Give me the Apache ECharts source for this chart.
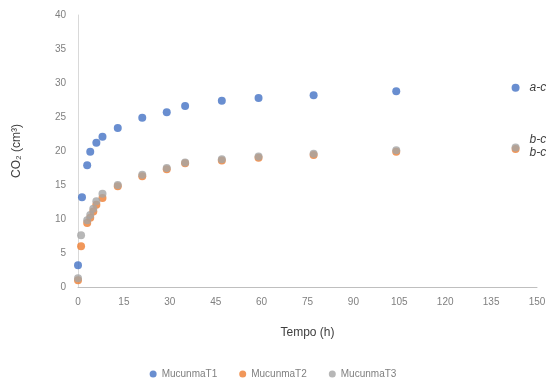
<!DOCTYPE html>
<html>
<head>
<meta charset="utf-8">
<script src="https://cdn.jsdelivr.net/npm/echarts@6/dist/echarts.min.js"></script>
<style>html,body{margin:0;padding:0;background:#fff}#c{width:546px;height:388px}</style>
</head>
<body>
<div id="c"></div>
<script>
var seriesNames = ['MucunmaT1', 'MucunmaT2', 'MucunmaT3'];
var timesT1 = [0, 1.3, 3, 4, 6, 8, 13, 21, 29, 35, 47, 59, 77, 104, 143];
var valuesT1 = [3.2, 13.2, 17.9, 19.9, 21.2, 22.1, 23.4, 24.9, 25.7, 26.6, 27.4, 27.8, 28.2, 28.8, 29.3];
var timesT2 = [0, 1, 3, 4, 5, 6, 8, 13, 21, 29, 35, 47, 59, 77, 104, 143];
var valuesT2 = [1.0, 6.0, 9.4, 10.2, 11.1, 12.1, 13.1, 14.8, 16.3, 17.3, 18.2, 18.6, 19.0, 19.4, 19.9, 20.3];
var timesT3 = [0, 1, 3, 4, 5, 6, 8, 13, 21, 29, 35, 47, 59, 77, 104, 143];
var valuesT3 = [1.3, 7.6, 9.8, 10.6, 11.5, 12.6, 13.7, 15.0, 16.5, 17.5, 18.3, 18.8, 19.2, 19.6, 20.1, 20.5];
var annotations = [['a-c', 143, 29.3], ['b-c', 143, 21.6], ['b-c', 143, 19.7]];
var colors = ['#4472C4', '#ED7D31', '#A5A5A5'];

function pairs(t, v) { return t.map(function (x, i) { return [x, v[i]]; }); }

var chart = echarts.init(document.getElementById('c'), null, { renderer: 'canvas' });
var labelFont = 'Liberation Sans';
chart.setOption({
  animation: false,
  color: colors,
  grid: { left: 78, right: 9, top: 15, bottom: 101, containLabel: false, outerBoundsMode: 'none' },
  xAxis: {
    type: 'value', min: 0, max: 150, interval: 15,
    name: 'Tempo (h)', nameLocation: 'middle', nameGap: 40,
    nameTextStyle: { color: '#404040', fontSize: 12, fontFamily: labelFont },
    axisLine: { show: true, lineStyle: { color: '#BFBFBF', width: 1 } },
    axisTick: { show: false },
    splitLine: { show: false },
    axisLabel: { color: '#7F7F7F', fontSize: 10, fontFamily: labelFont, margin: 10 }
  },
  yAxis: {
    type: 'value', min: 0, max: 40, interval: 5,
    name: 'CO\u2082 (cm\u00B3)', nameLocation: 'middle', nameGap: 55, nameRotate: 90,
    nameTextStyle: { color: '#404040', fontSize: 12, fontFamily: labelFont },
    axisLine: { show: true, lineStyle: { color: '#D9D9D9', width: 1 } },
    axisTick: { show: false },
    splitLine: { show: false },
    axisLabel: { color: '#7F7F7F', fontSize: 10, fontFamily: labelFont, margin: 12 }
  },
  legend: {
    bottom: 4, left: 'center', itemWidth: 7, itemHeight: 7, itemGap: 22, icon: 'circle',
    textStyle: { color: '#7F7F7F', fontSize: 10, fontFamily: labelFont },
    data: seriesNames
  },
  series: [
    { name: seriesNames[0], type: 'scatter', symbolSize: 8, data: pairs(timesT1, valuesT1), z: 3 },
    { name: seriesNames[1], type: 'scatter', symbolSize: 8, data: pairs(timesT2, valuesT2), z: 2 },
    { name: seriesNames[2], type: 'scatter', symbolSize: 8, data: pairs(timesT3, valuesT3), z: 4 }
  ]
});

var g = annotations.map(function (a) {
  var p = chart.convertToPixel({ gridIndex: 0 }, [a[1], a[2]]);
  return {
    type: 'text', x: p[0] + 14, y: p[1],
    style: { text: a[0], fill: '#404040', font: 'italic 12px ' + labelFont, textVerticalAlign: 'middle' }
  };
});
chart.setOption({ graphic: g });
</script>
</body>
</html>
